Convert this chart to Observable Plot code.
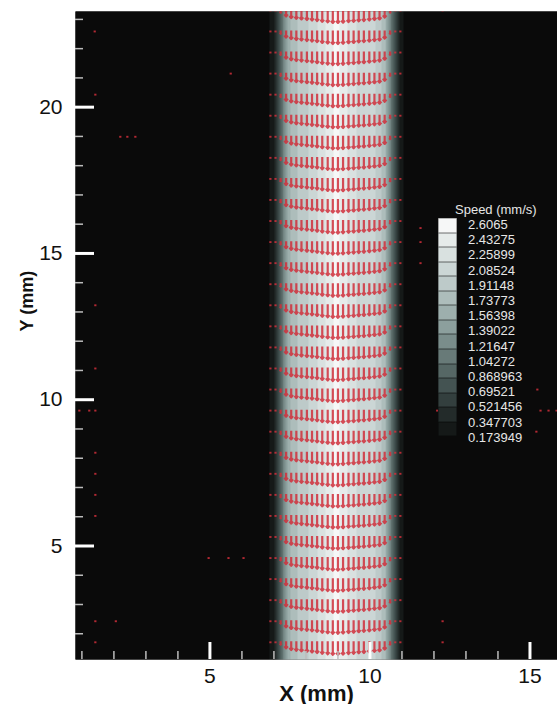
<!DOCTYPE html>
<html><head><meta charset="utf-8">
<script src="https://cdn.jsdelivr.net/npm/d3@7"></script>
<script src="https://cdn.jsdelivr.net/npm/@observablehq/plot@0.6"></script>
<style>
body{margin:0;background:#fff;font-family:"Liberation Sans",Arial,sans-serif;}
#wrap{position:relative;width:557px;height:704px;overflow:hidden;}
#wrap svg{position:absolute;left:0;top:0;}
.lg-title{position:absolute;left:455px;top:203px;font-size:13px;line-height:14px;color:#e6e6e6;white-space:nowrap;}
.lg-sw{position:absolute;left:438px;width:19px;box-shadow:inset 0 0 0 0.6px rgba(0,0,0,0.55);}
.lg-lab{position:absolute;left:468px;font-size:13px;line-height:14px;color:#e6e6e6;white-space:nowrap;}
</style></head><body><div id="wrap"></div>
<script>
// axis ranges and ticks
const xDomain = [0.8, 15.86];
const yDomain = [1.12, 23.27];
const xMajorTicks = [5, 10, 15];
const xMinorTicks = [1, 2, 3, 4, 6, 7, 8, 9, 11, 12, 13, 14];
const yMajorTicks = [5, 10, 15, 20];
const yMinorTicks = [2, 3, 4, 6, 7, 8, 9, 11, 12, 13, 14, 16, 17, 18, 19, 21, 22, 23];

// contour levels (legend order, top first)
const levelLabels = ["2.6065","2.43275","2.25899","2.08524","1.91148","1.73773","1.56398","1.39022","1.21647","1.04272","0.868963","0.69521","0.521456","0.347703","0.173949"];
const levelValues = [2.6065,2.43275,2.25899,2.08524,1.91148,1.73773,1.56398,1.39022,1.21647,1.04272,0.868963,0.69521,0.521456,0.347703,0.173949];
const levelColors = ["#f6f7f7","#e6ebea","#d9e1e0","#cbd6d5","#bdcac9","#adbdbb","#9dafad","#8c9f9d","#7a8d8b","#687a78","#566765","#445352","#333f3e","#232b2a","#151918"];
const backgroundColor = "#0a0a0a";

// speed profile across the channel (X mm -> speed mm/s)
const profileX =     [0.5, 6.55, 6.8, 7.0, 7.15, 7.3, 7.45, 7.6, 7.9, 8.2, 8.5, 8.75, 8.95, 9.15, 9.4, 9.7, 10.0, 10.25, 10.45, 10.6, 10.75, 10.9, 11.05, 11.25, 16.5];
const profileSpeed = [0,   0,    0.12, 0.3, 0.7,  1.2, 1.6,  1.85,2.0, 2.15,2.35,2.55, 2.65, 2.55, 2.35,2.2, 2.15, 2.05,  1.8,   1.35, 0.8,   0.4,  0.18,  0,     0];
const profileRowsY = [0, 25];

// velocity vectors (pointing in -Y)
const vecRowsY = [1.74,2.46,3.18,3.90,4.62,5.34,6.06,6.78,7.50,8.22,8.94,9.66,10.38,11.10,11.82,12.54,13.26,13.98,14.70,15.42,16.14,16.86,17.58,18.30,19.02,19.74,20.46,21.18,21.90,22.62,23.34];
const vecColsX =     [6.89,7.05,7.21,7.38,7.54,7.70,7.86,8.03,8.19,8.35,8.51,8.68,8.84,9.00,9.16,9.33,9.49,9.65,9.81,9.98,10.14,10.30,10.46,10.63,10.79,10.95];
const vecColsSpeed = [0.35,0.35,0.6, 1.3, 1.6, 1.75,1.85,1.95,2.05,2.15,2.3, 2.4, 2.5, 2.5, 2.45,2.35,2.3, 2.2, 2.15,2.05,1.95, 1.85, 1.5,  0.6,  0.35, 0.35];

// isolated small vectors in the quiescent region
const noiseX = [1.42,1.40,1.42,1.42,1.42,1.42,1.42,1.42,1.42,0.92,1.23,1.42,2.20,2.42,2.67,5.65,15.33,15.58,15.83,4.96,5.58,6.05,1.42,2.06,12.27,12.27,12.27,15.23,15.20,12.10,11.58,11.58,11.58];
const noiseY = [1.74,22.62,20.46,13.26,11.10,8.22,7.50,6.78,6.06,9.66,9.66,9.66,19.02,19.02,19.02,21.18,9.66,9.66,9.66,4.62,4.62,4.62,2.46,2.46,2.46,1.74,23.34,10.38,8.94,9.66,15.90,15.42,14.70];
const noiseSpeed = 0.35;

const field = profileRowsY.flatMap(y => profileX.map((x, i) => ({x, y, v: profileSpeed[i]})));
const vectors = vecRowsY.flatMap(y => vecColsX.map((x, i) => ({x, y, s: vecColsSpeed[i]})));
const noise = noiseX.map((x, i) => ({x, y: noiseY[i], s: noiseSpeed}));
const allVectors = vectors.concat(noise);

// small-headed arrow, like the Tecplot vectors
const smallArrow = {
  draw(context, l) {
    const w = Math.min(1.8, l * 0.25);
    context.moveTo(0, 0);
    context.lineTo(0, -l);
    if (w > 0.6) {
      context.moveTo(-w, w * 1.2 - l);
      context.lineTo(0, -l);
      context.lineTo(w, w * 1.2 - l);
    }
  }
};

const W = 557, H = 704;
const chart = Plot.plot({
  width: W, height: H,
  marginLeft: 75, marginRight: 0, marginTop: 11, marginBottom: 45,
  style: {fontFamily: "Liberation Sans, Arial, sans-serif", background: "transparent", overflow: "visible"},
  x: {domain: xDomain},
  y: {domain: yDomain},
  color: {type: "threshold", domain: levelValues.slice().reverse(), range: [backgroundColor, ...levelColors.slice().reverse()]},
  length: {domain: [0, 2.5], range: [0, 13.5]},
  marks: [
    Plot.frame({fill: backgroundColor, stroke: null}),
    Plot.raster(field, {x: "x", y: "y", fill: "v", interpolate: "barycentric",
      x1: xDomain[0], x2: xDomain[1], y1: yDomain[0], y2: yDomain[1]}),
    Plot.vector(allVectors, {x: "x", y: "y", length: "s", rotate: 180, anchor: "start", shape: smallArrow,
      stroke: "#d02f3b", strokeOpacity: 0.85, strokeWidth: 2.2, strokeLinecap: "butt", clip: true}),
    // minor ticks (inward)
    Plot.axisX(xMinorTicks, {anchor: "bottom", tickSize: 8, dy: -8, stroke: "#bdbdbd", strokeWidth: 1.5, tickFormat: () => "", label: null}),
    Plot.axisX(xMajorTicks, {anchor: "bottom", tickSize: 17, dy: -17, stroke: "#ffffff", strokeWidth: 3, tickFormat: () => "", label: null}),
    Plot.axisY(yMinorTicks, {anchor: "left", tickSize: 8, dx: 8, stroke: "#bdbdbd", strokeWidth: 1.5, tickFormat: () => "", label: null}),
    Plot.axisY(yMajorTicks, {anchor: "left", tickSize: 19, dx: 19, stroke: "#ffffff", strokeWidth: 3, tickFormat: () => "", label: null}),
    // tick labels
    Plot.axisX(xMajorTicks, {anchor: "bottom", tickSize: 0, tickPadding: 9, fontSize: 21, fill: "#111", label: null}),
    Plot.axisY(yMajorTicks, {anchor: "left", tickSize: 0, tickPadding: 13, fontSize: 21, fill: "#111", label: null}),
    // axis titles
    Plot.text(["X (mm)"], {text: d => d, frameAnchor: "bottom", lineAnchor: "bottom", dy: 41, fontSize: 22, fontWeight: "bold", fill: "#111"}),
    Plot.text(["Y (mm)"], {text: d => d, frameAnchor: "left", lineAnchor: "bottom", rotate: -90, dx: -43, dy: -4, fontSize: 18, fontWeight: "bold", fill: "#111"})
  ]
});

const wrap = document.getElementById("wrap");
wrap.appendChild(chart);

// legend
const title = document.createElement("div");
title.className = "lg-title";
title.textContent = "Speed (mm/s)";
wrap.appendChild(title);
levelLabels.forEach((lab, i) => {
  const sw = document.createElement("div");
  sw.className = "lg-sw";
  sw.style.top = (218 + i * 14.56) + "px";
  sw.style.height = "14.56px";
  sw.style.background = levelColors[i];
  wrap.appendChild(sw);
  const t = document.createElement("div");
  t.className = "lg-lab";
  t.style.top = (218 + i * 15.2) + "px";
  t.textContent = lab;
  wrap.appendChild(t);
});
</script>
</body></html>
